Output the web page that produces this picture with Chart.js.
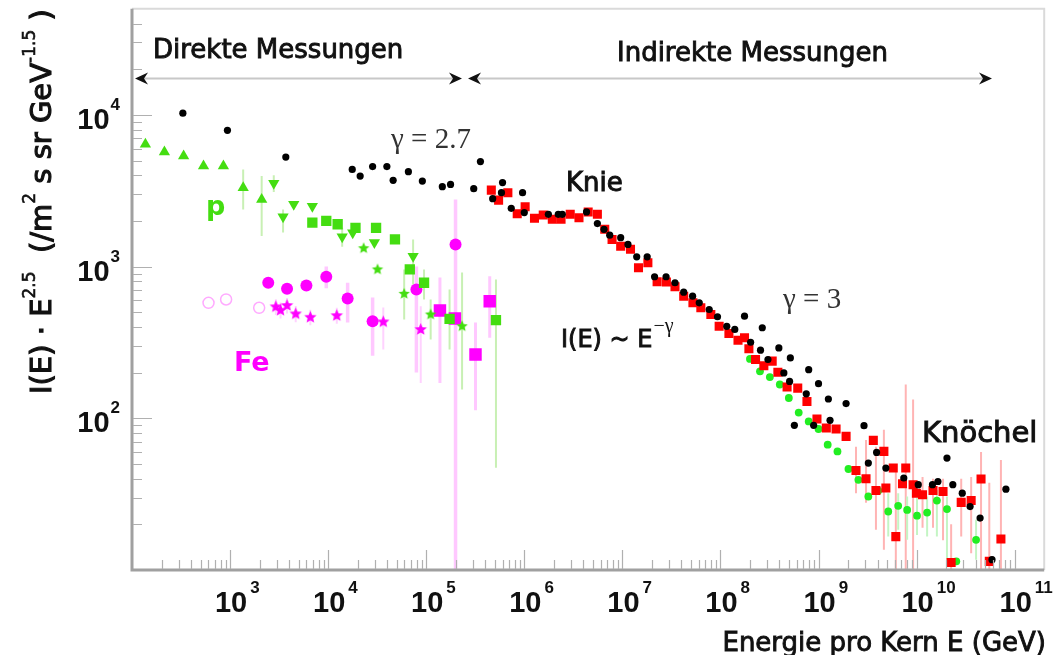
<!DOCTYPE html>
<html>
<head>
<meta charset="utf-8">
<script src="https://cdn.jsdelivr.net/npm/chart.js@4.4.1/dist/chart.umd.min.js"></script>
<style>
  html, body { margin: 0; padding: 0; background: #fff; }
  #wrap { width: 1053px; height: 655px; }
</style>
</head>
<body>
<div id="wrap"><canvas id="spektrum" width="1053" height="655"></canvas></div>
<script>
// Achsenbereiche und beschriftete Zehnerpotenzen
const X_MIN = 100, X_MAX = 2e11, Y_MIN = 10, Y_MAX = 5e4;
const xLabelExp = [3, 4, 5, 6, 7, 8, 9, 10, 11];
const yLabelExp = [2, 3, 4];

// Gesamtteilchenfluss (schwarze Punkte)
const blackE = [330, 940, 3700, 1.76e4, 2.12e4, 2.84e4, 3.97e4, 4.6e4, 6.58e4, 9.13e4, 1.46e5, 1.77e5, 3.05e5, 3.57e5,
  4.76e5, 6.0e5, 5.85e5, 7.36e5, 9.6e5, 1.0e6, 1.76e6, 2.22e6, 2.44e6, 4.31e6, 5.56e6, 6.5e6, 7.43e6, 9.61e6,
  1.14e7, 1.40e7, 1.79e7, 2.13e7, 2.79e7, 3.44e7, 4.22e7, 5.2e7, 6.08e7, 7.68e7, 9.33e7, 1.16e8, 1.40e8, 1.76e8,
  2.03e8, 2.56e8, 2.67e8, 3.05e8, 3.94e8, 4.43e8, 5.16e8, 5.07e8, 7.94e8, 7.5e8, 1.0e9, 1.26e9, 1.31e9, 1.91e9,
  5.67e8, 8.92e8, 2.91e9, 3.22e9, 3.91e9, 4.86e9, 7.4e9, 1.04e10, 1.45e10, 1.65e10, 2.04e10, 2.34e10, 2.92e10,
  3.51e10, 4.44e10, 5.87e10, 8.14e10];
const blackI = [10250, 7910, 5270, 4370, 3950, 4560, 4560, 3700, 4220, 3660, 3360, 3480, 3260, 4920,
  2800, 3580, 3070, 2420, 3070, 2270, 2210, 2210, 2210, 2290, 1920, 1760, 1610, 1550,
  1400, 1160, 1160, 857, 857, 782, 678, 638, 577, 521, 467, 404, 385, 471,
  317, 281, 395, 244, 291, 199, 250, 175, 209, 145, 169, 134, 96.9, 125,
  89.8, 89.8, 89.4, 50.7, 59.6, 47.0, 40.4, 36.5, 36.5, 38.3, 54.7, 36.5, 32.1,
  26.2, 22.0, 11.7, 34.1];

// Luftschauer-Messungen (rote Quadrate)
const redE = [4.61e5, 5.47e5, 6.8e5, 8.47e5, 1.02e6, 1.27e6, 1.56e6, 1.93e6, 2.37e6, 2.94e6, 3.61e6, 4.48e6,
  5.56e6, 6.61e6, 7.85e6, 9.61e6, 1.21e7, 1.46e7, 1.82e7, 2.26e7, 2.81e7, 3.44e7, 4.22e7, 5.24e7, 6.31e7,
  7.98e7, 9.7e7, 1.22e8, 1.51e8, 1.76e8, 1.95e8, 2.28e8, 2.77e8, 3.37e8, 3.85e8, 4.78e8, 6.14e8, 7.62e8,
  9.64e8, 1.2e9, 1.51e9, 1.91e9, 2.41e9, 3.05e9, 3.62e9, 3.85e9, 4.64e9, 4.86e9, 5.78e9, 6.14e9, 7.18e9,
  7.75e9, 9.21e9, 9.95e9, 1.15e10, 1.47e10, 1.86e10, 2.25e10, 2.85e10, 3.6e10, 4.54e10, 5.51e10, 7.24e10];
const redI = [3190, 2740, 3070, 2230, 2480, 2080, 2190, 2050, 2050, 2210, 2100, 2290,
  2210, 1760, 1510, 1360, 1300, 982, 1060, 794, 790, 736, 638, 577, 535,
  483, 404, 362, 327, 339, 287, 244, 222, 238, 201, 161, 158, 129,
  98.9, 86.3, 85.0, 76.0, 45.3, 39.9, 71.5, 33.4, 60.5, 34.7, 47.0, 16.6, 37.0,
  47.0, 36.5, 32.1, 31.3, 33.4, 32.9, 11.2, 27.9, 28.7, 39.8, 11.4, 16.0];
const redErrIdx = [42, 43, 45, 46, 49, 51, 52, 54, 55, 56, 57, 58, 59, 60, 61, 62];
const redErrLo = [32, 27.7, 18.4, 13.6, 5, 5, 5, 19, 19, 15.7, 5, 16.6, 12.9, 5, 5, 5];
const redErrHi = [65, 72, 65, 84, 47, 167, 133, 41, 40, 40, 20, 40, 41, 60, 37.6, 53];

// Hochenergie-Messungen (grüne Punkte)
const greenE = [2.0e8, 2.53e8, 3.19e8, 4.03e8, 4.98e8, 6.28e8, 7.94e8, 1.0e9, 1.24e9, 1.56e9, 2.02e9, 2.55e9,
  3.22e9, 4.07e9, 5.14e9, 6.49e9, 8.01e9, 1.01e10, 1.28e10, 1.61e10, 2.04e10, 2.54e10, 4.04e10];
const greenI = [246, 204, 187, 167, 136, 109, 95.4, 85.0, 67.0, 60.5, 46.3, 39.3,
  30.5, 33.4, 24.3, 26.5, 24.9, 22.8, 23.9, 28.7, 25.2, 11.4, 15.8];
const greenErrIdx = [14, 15, 16, 17, 18, 19, 20, 22];
const greenErrLo = [16.6, 18.4, 15.8, 17, 16.6, 16.6, 11.7, 11.7];
const greenErrHi = [32.1, 32.1, 30.5, 30, 30.5, 33.6, 30.5, 21.4];

// Protonen, direkte Messungen
const pUpE = [137, 214, 336, 536, 855, 1360, 2100];
const pUpI = [6400, 5690, 5350, 4600, 4600, 3310, 2770];
const pUpErrIdx = [5, 6];
const pUpErrLo = [2380, 1590];
const pUpErrHi = [4370, 3950];

const pDownE = [2790, 3470, 4460, 6900, 13900, 17800, 29600, 73500];
const pDownI = [3540, 2130, 2570, 2500, 1570, 1670, 1440, 1170];
const pDownErrIdx = [0, 1, 4, 7];
const pDownErrLo = [3100, 1680, 1350, 762];
const pDownErrHi = [4000, 2380, 1800, 1510];

const pSquareE = [6900, 9570, 12500, 19000, 30800, 48000, 68000, 95000, 173000, 514000];
const pSquareI = [1950, 2000, 1900, 1800, 1800, 1510, 957, 782, 452, 443];
const pSquareErrIdx = [7, 8, 9];
const pSquareErrLo = [607, 284, 47.2];
const pSquareErrHi = [957, 706, 822];

const pStarE = [23000, 31900, 59600, 111000, 232000];
const pStarI = [1320, 957, 661, 483, 404];
const pStarErrIdx = [2, 3, 4];
const pStarErrLo = [448, 331, 155];
const pStarErrHi = [957, 607, 914];

// Eisen, direkte Messungen
const feOpenE = [603, 911, 1980];
const feOpenI = [577, 607, 535];

const feCircleE = [2450, 3810, 6000, 9570, 15800, 28400, 79400, 199000];
const feCircleI = [782, 714, 750, 857, 616, 436, 706, 1400];
const feCircleErrIdx = [3, 4, 5, 6, 7];
const feCircleErrLo = [720, 428, 258, 200, 5];
const feCircleErrHi = [1000, 782, 625, 1000, 2770];

const feStarE = [2930, 3270, 3810, 4670, 6580, 12250, 36500, 87900];
const feStarI = [543, 515, 554, 488, 463, 475, 432, 385];
const feStarErrIdx = [0, 1, 2, 3, 4, 5, 6, 7];
const feStarErrLo = [480, 455, 490, 430, 410, 420, 284, 171];
const feStarErrHi = [610, 580, 620, 550, 520, 535, 537, 548];

const feSquareE = [138000, 196000, 318000, 444000];
const feSquareI = [513, 454, 263, 591];
const feSquareErrIdx = [0, 2, 3];
const feSquareErrLo = [171, 113, 340];
const feSquareErrHi = [847, 428, 864];

const GRUEN = '#44dd11';
const GRUEN_HE = '#22ee22';
const MAGENTA = '#ff00ff';

// fünfzackiger Stern als Punktsymbol
function stern(farbe, r) {
  const c = document.createElement('canvas');
  c.width = c.height = Math.ceil(2 * r + 2);
  const g = c.getContext('2d');
  const m = c.width / 2;
  g.beginPath();
  for (let i = 0; i < 10; i++) {
    const rr = i % 2 ? r * 0.45 : r;
    const a = -Math.PI / 2 + i * Math.PI / 5;
    g.lineTo(m + rr * Math.cos(a), m + rr * Math.sin(a));
  }
  g.closePath();
  g.fillStyle = farbe;
  g.fill();
  return c;
}

function serie(xs, ys, stil, fehler) {
  const ds = Object.assign({
    data: xs.map((x, i) => ({ x, y: ys[i] })),
    showLine: false,
    borderWidth: 0
  }, stil);
  if (fehler) ds.fehler = fehler;
  return ds;
}

function fehler(idx, lo, hi, farbe, breite) {
  return { idx, lo, hi, farbe, breite };
}

const datasets = [
  serie(blackE, blackI, { pointStyle: 'circle', pointRadius: 3.6, backgroundColor: '#000' }),
  serie(redE, redI, { pointStyle: 'rect', pointRadius: 6.4, backgroundColor: '#ff0000' },
    fehler(redErrIdx, redErrLo, redErrHi, '#ffb4b4', 2)),
  serie(greenE, greenI, { pointStyle: 'circle', pointRadius: 3.9, backgroundColor: GRUEN_HE },
    fehler(greenErrIdx, greenErrLo, greenErrHi, '#c4f5c4', 2)),
  serie(pUpE, pUpI, { pointStyle: 'triangle', pointRadius: 6.5, backgroundColor: GRUEN },
    fehler(pUpErrIdx, pUpErrLo, pUpErrHi, '#c8f0b4', 2)),
  serie(pDownE, pDownI, { pointStyle: 'triangle', rotation: 180, pointRadius: 6.5, backgroundColor: GRUEN },
    fehler(pDownErrIdx, pDownErrLo, pDownErrHi, '#c8f0b4', 2)),
  serie(pSquareE, pSquareI, { pointStyle: 'rect', pointRadius: 7.3, backgroundColor: GRUEN },
    fehler(pSquareErrIdx, pSquareErrLo, pSquareErrHi, '#c8f0b4', 2)),
  serie(pStarE, pStarI, { pointStyle: stern(GRUEN, 6), pointRadius: 6 },
    fehler(pStarErrIdx, pStarErrLo, pStarErrHi, '#c8f0b4', 2)),
  serie(feOpenE, feOpenI, { pointStyle: 'circle', pointRadius: 5.5, backgroundColor: 'rgba(0,0,0,0)',
    borderColor: '#ffaaff', borderWidth: 1.5 }),
  serie(feCircleE, feCircleI, { pointStyle: 'circle', pointRadius: 6, backgroundColor: MAGENTA },
    fehler(feCircleErrIdx, feCircleErrLo, feCircleErrHi, '#ffc8ff', 3.5)),
  serie(feStarE, feStarI, { pointStyle: stern(MAGENTA, 6.5), pointRadius: 6 },
    fehler(feStarErrIdx, feStarErrLo, feStarErrHi, '#ffd2ff', 2)),
  serie(feSquareE, feSquareI, { pointStyle: 'rect', pointRadius: 8.8, backgroundColor: MAGENTA },
    fehler(feSquareErrIdx, feSquareErrLo, feSquareErrHi, '#ffc8ff', 3))
];

// senkrechte Fehlerbalken unter den Punkten
const fehlerbalken = {
  id: 'fehlerbalken',
  beforeDatasetsDraw(chart) {
    const { ctx, chartArea: a, scales: { x, y } } = chart;
    ctx.save();
    ctx.beginPath();
    ctx.rect(a.left, a.top, a.right - a.left, a.bottom - a.top);
    ctx.clip();
    chart.data.datasets.forEach(ds => {
      const f = ds.fehler;
      if (!f) return;
      ctx.strokeStyle = f.farbe;
      ctx.lineWidth = f.breite;
      f.idx.forEach((i, k) => {
        const px = x.getPixelForValue(ds.data[i].x);
        ctx.beginPath();
        ctx.moveTo(px, y.getPixelForValue(f.lo[k]));
        ctx.lineTo(px, y.getPixelForValue(f.hi[k]));
        ctx.stroke();
      });
    });
    ctx.restore();
  }
};

function pfeilspitze(ctx, x, y, dir) {
  ctx.beginPath();
  ctx.moveTo(x, y);
  ctx.lineTo(x - dir * 13, y - 6);
  ctx.lineTo(x - dir * 9, y);
  ctx.lineTo(x - dir * 13, y + 6);
  ctx.closePath();
  ctx.fill();
}

// Text mit etwas kräftigerem Strich
function text(ctx, t, x, y, dicke) {
  ctx.fillText(t, x, y);
  if (dicke) {
    ctx.lineWidth = dicke;
    ctx.strokeStyle = ctx.fillStyle;
    ctx.strokeText(t, x, y);
  }
}

const SANS = '"DejaVu Sans"';
const ZIFFERN = '"Liberation Sans"';

// Rahmen, Teilstriche, Beschriftung
const rahmen = {
  id: 'rahmen',
  afterDraw(chart) {
    const { ctx, chartArea: a, scales: { x, y } } = chart;
    ctx.save();

    ctx.lineWidth = 2;
    ctx.strokeStyle = '#dadada';
    ctx.beginPath();
    ctx.moveTo(a.left, a.top);
    ctx.lineTo(a.right, a.top);
    ctx.lineTo(a.right, a.bottom);
    ctx.stroke();

    ctx.lineWidth = 3;
    ctx.strokeStyle = '#a0a0a0';
    ctx.beginPath();
    ctx.moveTo(a.left, a.top);
    ctx.lineTo(a.left, a.bottom);
    ctx.lineTo(a.right, a.bottom);
    ctx.stroke();

    ctx.lineWidth = 1.2;
    ctx.strokeStyle = '#b0b0b0';
    ctx.beginPath();
    for (let e = 2; e <= 11; e++) {
      for (let m = 1; m <= 9; m++) {
        const v = m * Math.pow(10, e);
        if (v <= X_MIN || v >= X_MAX) continue;
        const px = Math.round(x.getPixelForValue(v)) + 0.5;
        ctx.moveTo(px, a.bottom - 1);
        ctx.lineTo(px, a.bottom - (m === 1 ? 20 : 10));
      }
    }
    for (let e = 1; e <= 4; e++) {
      for (let m = 1; m <= 9; m++) {
        const v = m * Math.pow(10, e);
        if (v <= Y_MIN || v >= Y_MAX) continue;
        const py = Math.round(y.getPixelForValue(v)) + 0.5;
        ctx.moveTo(a.left + 1, py);
        ctx.lineTo(a.left + (m === 1 ? 20 : 10), py);
      }
    }
    ctx.stroke();

    // Zehnerpotenzen an den Achsen
    ctx.fillStyle = '#111';
    ctx.textBaseline = 'alphabetic';
    xLabelExp.forEach(e => {
      const px = x.getPixelForValue(Math.pow(10, e));
      ctx.font = 'bold 29px ' + ZIFFERN;
      ctx.textAlign = 'center';
      ctx.fillText('10', px + 1, 612);
      const w = ctx.measureText('10').width;
      ctx.font = 'bold 17px ' + ZIFFERN;
      ctx.textAlign = 'left';
      ctx.fillText(String(e), px + 1 + w / 2 + 3, 593);
    });
    yLabelExp.forEach(e => {
      const py = y.getPixelForValue(Math.pow(10, e));
      ctx.font = 'bold 17px ' + ZIFFERN;
      ctx.textAlign = 'right';
      ctx.fillText(String(e), 120, py - 5);
      const we = ctx.measureText(String(e)).width;
      ctx.font = 'bold 29px ' + ZIFFERN;
      ctx.fillText('10', 120 - we - 1, py + 14);
    });

    // Achsentitel
    ctx.font = '26px ' + SANS;
    ctx.textAlign = 'right';
    text(ctx, 'Energie pro Kern E (GeV)', 1046, 651, 0.9);

    const teile = [['I(E) · E', 0], ['2.5', 1], ['  (/m', 0], ['2', 1], [' s sr GeV', 0], ['-1.5', 1], [' )', 0]];
    ctx.save();
    ctx.translate(51, 394);
    ctx.rotate(-Math.PI / 2);
    ctx.textAlign = 'left';
    let pos = 0;
    teile.forEach(([t, hoch]) => {
      ctx.font = hoch ? '17px ' + SANS : '29px ' + SANS;
      text(ctx, t, pos, hoch ? -16 : 0, hoch ? 0.6 : 1.1);
      pos += ctx.measureText(t).width;
    });
    ctx.restore();

    // Messbereiche mit Pfeilen
    ctx.textAlign = 'left';
    ctx.font = '26px ' + SANS;
    text(ctx, 'Direkte Messungen', 153, 58, 0.9);
    text(ctx, 'Indirekte Messungen', 617, 61, 0.9);
    ctx.strokeStyle = '#c8c8c8';
    ctx.lineWidth = 2;
    ctx.beginPath();
    ctx.moveTo(140, 78.5); ctx.lineTo(456, 78.5);
    ctx.moveTo(474, 78.5); ctx.lineTo(986, 78.5);
    ctx.stroke();
    ctx.fillStyle = '#111';
    pfeilspitze(ctx, 135, 78.5, -1);
    pfeilspitze(ctx, 462, 78.5, 1);
    pfeilspitze(ctx, 468, 78.5, -1);
    pfeilspitze(ctx, 992, 78.5, 1);

    // Spektralindizes
    ctx.fillStyle = '#333';
    ctx.font = '29px "Liberation Serif"';
    ctx.fillText('\u03b3 = 2.7', 391, 148);
    ctx.fillText('\u03b3 = 3', 783, 308);

    ctx.fillStyle = '#111';
    ctx.font = '26px ' + SANS;
    text(ctx, 'Knie', 566, 191, 1);
    ctx.font = '29px ' + SANS;
    text(ctx, 'Kn\u00f6chel', 922, 442, 1);
    ctx.font = '24px ' + SANS;
    text(ctx, 'I(E) ~ E', 561, 347, 0.9);
    const wE = ctx.measureText('I(E) ~ E').width;
    ctx.font = '20px "Liberation Serif"';
    ctx.fillText('\u2212\u03b3', 561 + wE + 1, 332);

    ctx.font = 'bold 27px ' + SANS;
    ctx.fillStyle = GRUEN;
    ctx.fillText('p', 206, 215);
    ctx.fillStyle = MAGENTA;
    ctx.fillText('Fe', 234, 371);

    ctx.restore();
  }
};

new Chart(document.getElementById('spektrum'), {
  type: 'scatter',
  data: { datasets },
  options: {
    responsive: false,
    animation: false,
    events: [],
    layout: { padding: { left: 132, top: 8, right: 4, bottom: 85 } },
    plugins: { legend: { display: false }, tooltip: { enabled: false } },
    scales: {
      x: { type: 'logarithmic', min: X_MIN, max: X_MAX, display: false },
      y: { type: 'logarithmic', min: Y_MIN, max: Y_MAX, display: false }
    }
  },
  plugins: [fehlerbalken, rahmen]
});
</script>
</body>
</html>
